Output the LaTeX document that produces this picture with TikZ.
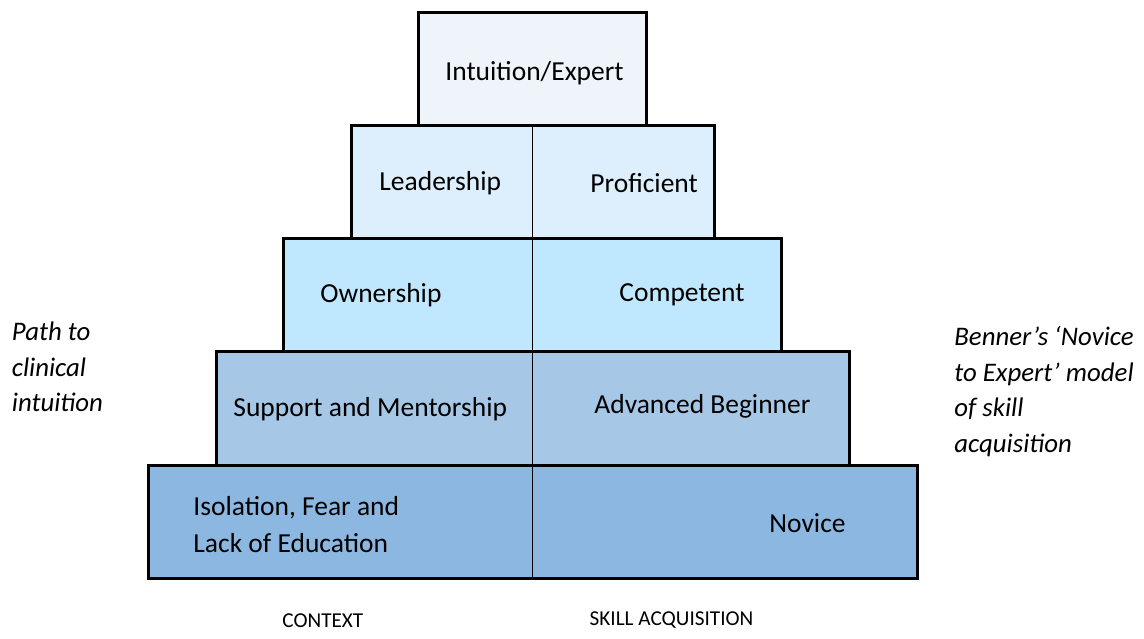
\documentclass[tikz,border=0pt]{standalone}
\usepackage{fontspec}
\setmainfont{Carlito}
\definecolor{tierA}{HTML}{EEF4FA}
\definecolor{tierB}{HTML}{DDEFFC}
\definecolor{tierC}{HTML}{BFE7FD}
\definecolor{tierD}{HTML}{A6C8E6}
\definecolor{tierE}{HTML}{8CB7E0}

\begin{document}
\begin{tikzpicture}[
  x=0.5pt, y=-0.5pt,
  font=\fontsize{13.75}{18.5}\selectfont,
  tier/.style={draw=black, line width=1.5pt, inner sep=0pt, outer sep=0pt, minimum height=56.5pt},
  lbl/.style={anchor=base west, inner sep=0pt, align=left},
  side/.style={lbl, font=\fontsize{13.4}{17.75}\selectfont\itshape},
  foot/.style={lbl, font=\fontsize{10.6}{12}\selectfont},
  divider/.style={draw=black, line width=0.6pt}
]
\useasboundingbox (0,0) rectangle (1144,638);
% the pyramid, top to bottom
\node[tier, fill=tierA, minimum width=114pt]   (expert) at (532.5,68.5) {};
\node[tier, fill=tierB, minimum width=181.5pt] (lead)   at (532.5,181.5) {};
\node[tier, fill=tierC, minimum width=249pt]   (own)    at (532.5,294.5) {};
\node[tier, fill=tierD, minimum width=316.5pt, minimum height=57pt] (support) at (532.5,408) {};
\node[tier, fill=tierE, minimum width=384.5pt] (novice) at (532.5,521.5) {};
\draw[divider] (lead.north) -- (novice.south);

% left column: context (multi-line labels sit on their last line)
\node[lbl] (txtexpert)  at (445,80)    {Intuition/Expert};
\node[lbl] (txtlead)    at (379,190)   {Leadership};
\node[lbl] (txtown)     at (320,302.7) {Ownership};
\node[lbl] (txtsupport) at (233,416.7) {Support and Mentorship};
\node[lbl] (txtisol)    at (193,552.7) {Isolation, Fear and\\Lack of Education};
% right column: skill acquisition
\node[lbl] (txtprof)    at (590,192.7) {Proficient};
\node[lbl] (txtcomp)    at (619,301)   {Competent};
\node[lbl] (txtadv)     at (594,413.3) {Advanced Beginner};
\node[lbl] (txtnov)     at (769,532.7) {Novice};

% side notes and footers
\node[side] (path)   at (11.5,411.7) {Path to\\clinical\\intuition};
\node[side] (benner) at (954,452)    {Benner’s ‘Novice\\to Expert’ model\\of skill\\acquisition};
\node[foot] (context) at (282,627.3)  {CONTEXT};
\node[foot] (skill)   at (589.3,625.7) {SKILL ACQUISITION};
\end{tikzpicture}
\end{document}
